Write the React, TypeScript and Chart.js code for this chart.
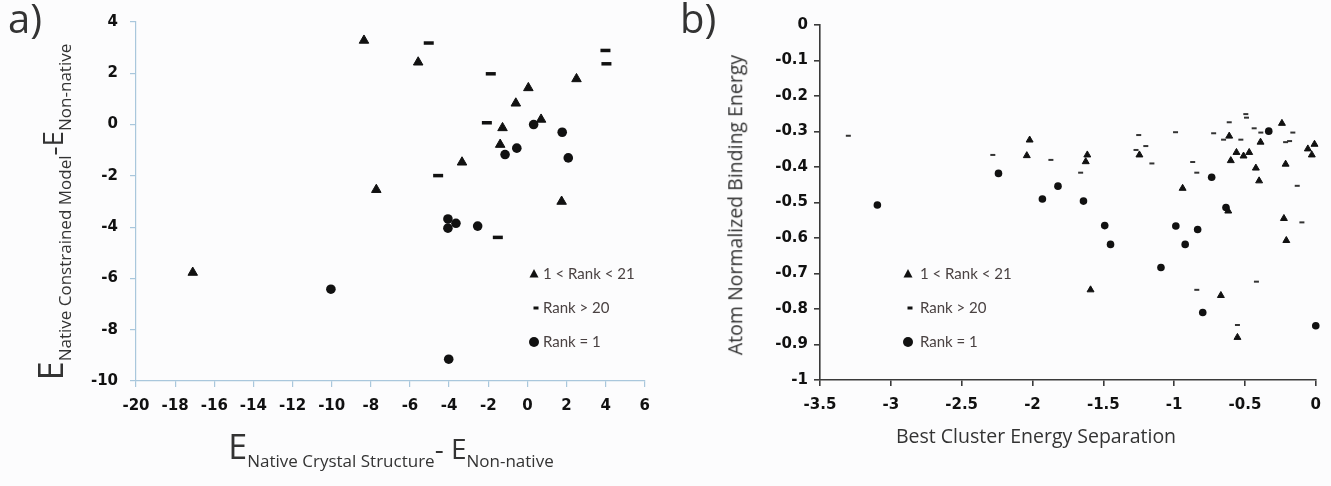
import React, { useEffect, useRef } from 'react';
import { Chart, registerables } from 'chart.js';

Chart.register(...registerables);
Chart.defaults.font.family = "'DejaVu Sans', sans-serif";
Chart.defaults.font.size = 15;
Chart.defaults.font.weight = 'bold' as any;

// ---------- Panel a) data ----------
const aTriangleX = [-8.35, -5.58, 2.51, 0.05, -0.59, 0.7, -1.27, -1.39, -3.34, -7.72, 1.75, -17.1];
const aTriangleY = [3.28, 2.43, 1.78, 1.43, 0.83, 0.2, -0.13, -0.78, -1.47, -2.54, -3.0, -5.77];
const aDashX = [-5.04, 3.99, 4.04, -1.87, -2.07, -4.56, -1.51];
const aDashY = [3.18, 2.89, 2.37, 1.98, 0.07, -1.99, -4.4];
const aCircleX = [0.32, 1.78, -0.54, -1.14, 2.09, -4.06, -3.65, -4.06, -2.54, -10.04, -4.02];
const aCircleY = [0.0, -0.3, -0.92, -1.17, -1.3, -3.68, -3.85, -4.04, -3.96, -6.42, -9.15];

// ---------- Panel b) data ----------
const bTriangleX = [-2.02, -2.04, -1.613, -1.624, -1.245, -0.94, -0.611, -0.56, -0.51, -0.47, -0.6, -0.39, -0.423, -0.4, -0.239, -0.213, -0.056, -0.009, -0.028, -0.225, -0.208, -0.618, -1.59, -0.67, -0.553];
const bTriangleY = [-0.324, -0.368, -0.366, -0.385, -0.366, -0.46, -0.313, -0.359, -0.369, -0.359, -0.382, -0.33, -0.403, -0.439, -0.277, -0.392, -0.349, -0.336, -0.366, -0.545, -0.607, -0.524, -0.746, -0.762, -0.88];
const bCircleX = [-3.095, -2.24, -1.82, -1.93, -1.64, -1.49, -1.449, -0.988, -0.834, -0.922, -0.735, -0.332, -0.634, -1.093, -0.798, 0.0];
const bCircleY = [-0.507, -0.418, -0.454, -0.49, -0.496, -0.565, -0.618, -0.566, -0.576, -0.618, -0.429, -0.299, -0.514, -0.683, -0.81, -0.847];
const bDashX = [-3.3, -2.28, -1.87, -1.66, -1.25, -1.2, -1.269, -1.157, -0.99, -0.869, -0.84, -0.721, -0.611, -0.651, -0.529, -0.494, -0.489, -0.435, -0.388, -0.213, -0.185, -0.162, -0.131, -0.098, -0.84, -0.419, -0.553];
const bDashY = [-0.312, -0.366, -0.38, -0.416, -0.31, -0.341, -0.352, -0.39, -0.302, -0.386, -0.416, -0.305, -0.274, -0.323, -0.323, -0.251, -0.261, -0.291, -0.303, -0.33, -0.327, -0.303, -0.453, -0.556, -0.746, -0.723, -0.845];

const legendLabels = ['1 < Rank < 21', 'Rank > 20', 'Rank = 1'];

const aXRange = [-20, 6, 2];
const aYRange = [-10, 4, 2];
const bXRange = [-3.5, 0, 0.5];
const bYRange = [-1, 0, 0.1];

const zip = (xs: number[], ys: number[]) => xs.map((x, i) => ({ x, y: ys[i] }));
const fmt = (v: any) => String(Math.round(Number(v) * 10) / 10);

const TICK_FONT = { family: "'DejaVu Sans', sans-serif", size: 15, weight: 'bold' };
const TITLE_FONT = "'Open Sans', sans-serif";

const legendPlugin = {
  id: 'customLegend',
  afterDraw(chart: any, _args: any, opts: any) {
    const { ctx, chartArea } = chart;
    ctx.save();
    ctx.font = '15px Lato';
    ctx.textBaseline = 'middle';
    ctx.textAlign = 'left';
    const styles = ['triangle', 'dash', 'circle'];
    legendLabels.forEach((label, i) => {
      const x = chartArea.left + opts.dx;
      const y = chartArea.top + opts.dy + i * opts.gap;
      ctx.fillStyle = '#111';
      const s = styles[i];
      if (s === 'triangle') {
        ctx.beginPath();
        ctx.moveTo(x, y - 5);
        ctx.lineTo(x + 4.5, y + 3.5);
        ctx.lineTo(x - 4.5, y + 3.5);
        ctx.closePath();
        ctx.fill();
      } else if (s === 'dash') {
        ctx.fillRect(x - 0.5, y - 1.5, 5, 3);
      } else {
        ctx.beginPath();
        ctx.arc(x, y, 5, 0, Math.PI * 2);
        ctx.fill();
      }
      ctx.fillStyle = '#4a4242';
      ctx.fillText(label, x + opts.textOffset, y);
    });
    ctx.restore();
  },
};

function axis(range: number[], color: string, width: number, fixed: { w?: number; h?: number }, pad: number) {
  return {
    type: 'linear',
    min: range[0],
    max: range[1],
    afterBuildTicks: (scale: any) => {
      const t: any[] = [];
      const n = Math.round((range[1] - range[0]) / range[2]);
      for (let i = 0; i <= n; i++) t.push({ value: Math.round((range[0] + i * range[2]) * 100) / 100 });
      scale.ticks = t;
    },
    afterFit: (scale: any) => {
      if (fixed.w !== undefined) scale.width = fixed.w;
      if (fixed.h !== undefined) scale.height = fixed.h;
    },
    ticks: { callback: fmt, font: TICK_FONT, color: '#111', padding: pad, autoSkip: false, maxRotation: 0 },
    grid: { display: true, drawOnChartArea: false, drawTicks: true, tickLength: 6, color, lineWidth: width },
    border: { display: true, color, width },
    title: { display: false },
  };
}

function ScatterPanel(props: {
  width: number;
  height: number;
  left: number;
  datasets: any[];
  xRange: number[];
  yRange: number[];
  yWidth: number;
  padding: any;
  axisColor: string;
  axisWidth: number;
  legend: any;
  yPad: number;
  xPad: number;
}) {
  const ref = useRef<HTMLCanvasElement>(null);
  useEffect(() => {
    if (!ref.current) return;
    const chart = new Chart(ref.current, {
      type: 'scatter',
      data: { datasets: props.datasets },
      options: {
        responsive: false,
        animation: false,
        events: [],
        font: TICK_FONT,
        layout: { padding: props.padding },
        plugins: { legend: { display: false }, tooltip: { enabled: false }, customLegend: props.legend } as any,
        scales: {
          x: axis(props.xRange, props.axisColor, props.axisWidth, { h: 60 }, props.xPad) as any,
          y: axis(props.yRange, props.axisColor, props.axisWidth, { w: props.yWidth }, props.yPad) as any,
        },
      } as any,
      plugins: [legendPlugin],
    });
    return () => chart.destroy();
  }, []);
  return (
    <canvas
      ref={ref}
      width={props.width}
      height={props.height}
      style={{ position: 'absolute', left: props.left, top: 0, width: props.width, height: props.height, display: 'block' }}
    />
  );
}

export default function App() {
  const black = '#111';
  const aSets = [
    { label: legendLabels[0], data: zip(aTriangleX, aTriangleY), pointStyle: 'triangle', radius: 5.5, backgroundColor: black, borderColor: black, borderWidth: 1, clip: false },
    { label: legendLabels[1], data: zip(aDashX, aDashY), pointStyle: 'line', radius: 5, backgroundColor: black, borderColor: black, borderWidth: 3.5, clip: false },
    { label: legendLabels[2], data: zip(aCircleX, aCircleY), pointStyle: 'circle', radius: 4.8, backgroundColor: black, borderColor: black, borderWidth: 0, clip: false },
  ];
  const bSets = [
    { label: legendLabels[0], data: zip(bTriangleX, bTriangleY), pointStyle: 'triangle', radius: 4, backgroundColor: black, borderColor: black, borderWidth: 1, clip: false },
    { label: legendLabels[1], data: zip(bDashX, bDashY), pointStyle: 'line', radius: 2.5, backgroundColor: '#333', borderColor: '#333', borderWidth: 2, clip: false },
    { label: legendLabels[2], data: zip(bCircleX, bCircleY), pointStyle: 'circle', radius: 3.8, backgroundColor: black, borderColor: black, borderWidth: 0, clip: false },
  ];
  const textColor = '#333';
  return (
    <div style={{ position: 'absolute', left: 0, top: 0, width: 1331, height: 486, background: '#fcfcfd', overflow: 'hidden', fontFamily: TITLE_FONT, color: textColor }}>
      <ScatterPanel
        width={660}
        height={486}
        left={0}
        datasets={aSets}
        xRange={aXRange}
        yRange={aYRange}
        yWidth={136}
        padding={{ left: 0, right: 13, top: 22, bottom: 45 }}
        axisColor="#a9c7dc"
        axisWidth={1.2}
        legend={{ dx: 398, dy: 252, gap: 34, textOffset: 9 }}
        yPad={12}
        xPad={10}
      />
      <ScatterPanel
        width={671}
        height={486}
        left={660}
        datasets={bSets}
        xRange={bXRange}
        yRange={bYRange}
        yWidth={160}
        padding={{ left: 0, right: 13, top: 25, bottom: 46 }}
        axisColor="#3a3a3a"
        axisWidth={1.6}
        legend={{ dx: 88, dy: 249, gap: 34, textOffset: 12 }}
        yPad={6}
        xPad={10}
      />
      <div style={{ position: 'absolute', left: 8, top: -6, fontSize: 40, lineHeight: 1.2 }}>a)</div>
      <div style={{ position: 'absolute', left: 680, top: -6, fontSize: 40, lineHeight: 1.2 }}>b)</div>
      {/* panel a y title */}
      <div style={{ position: 'absolute', left: 50, top: 212, transform: 'translate(-50%, -50%) rotate(-90deg)', whiteSpace: 'nowrap', lineHeight: 1 }}>
        <span style={{ fontSize: 34 }}>E</span>
        <span style={{ fontSize: 17, position: 'relative', top: 8 }}>Native Constrained Model</span>
        <span style={{ fontSize: 28 }}>-E</span>
        <span style={{ fontSize: 17, position: 'relative', top: 8 }}>Non-native</span>
      </div>
      {/* panel a x title */}
      <div style={{ position: 'absolute', left: 391, top: 446, transform: 'translate(-50%, -50%)', whiteSpace: 'nowrap', lineHeight: 1 }}>
        <span style={{ fontSize: 34 }}>E</span>
        <span style={{ fontSize: 17, position: 'relative', top: 8 }}>Native Crystal Structure</span>
        <span style={{ fontSize: 28 }}>- E</span>
        <span style={{ fontSize: 17, position: 'relative', top: 8 }}>Non-native</span>
      </div>
      {/* panel b titles */}
      <div style={{ position: 'absolute', left: 735, top: 205, transform: 'translate(-50%, -50%) rotate(-90deg)', whiteSpace: 'nowrap', fontSize: 19.5, lineHeight: 1 }}>
        Atom Normalized Binding Energy
      </div>
      <div style={{ position: 'absolute', left: 1036, top: 436, transform: 'translate(-50%, -50%)', whiteSpace: 'nowrap', fontSize: 19.5, lineHeight: 1 }}>
        Best Cluster Energy Separation
      </div>
    </div>
  );
}
